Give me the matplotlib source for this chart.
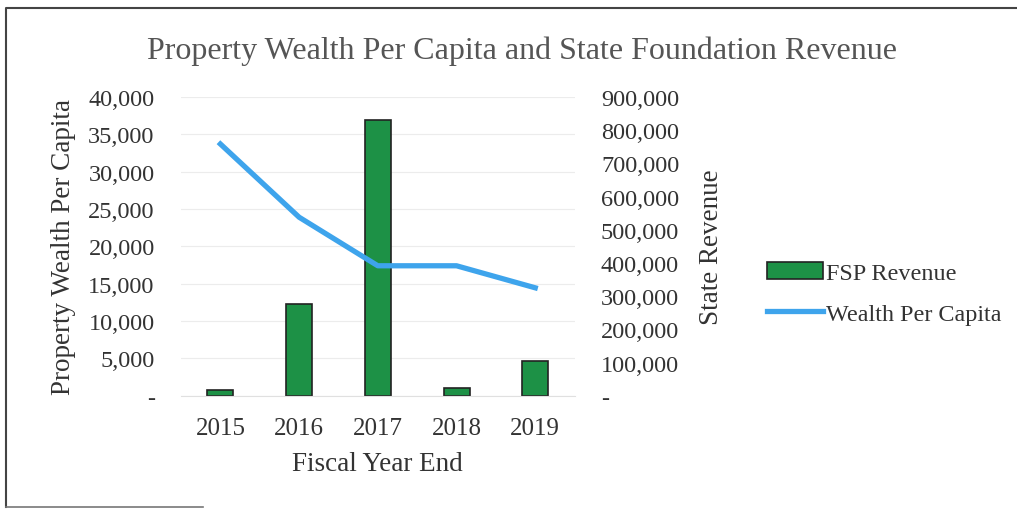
import matplotlib.pyplot as plt
import matplotlib.ticker as mticker
import matplotlib.transforms as mtransforms
from matplotlib.lines import Line2D
from matplotlib.patches import Patch

years = ['2015', '2016', '2017', '2018', '2019']
fsp_revenue = [16000, 277000, 832000, 24000, 106000]
wealth_per_capita = [33700, 23900, 17400, 17400, 14450]

plt.rcParams['font.family'] = ['Liberation Serif', 'DejaVu Serif']

fig = plt.figure(figsize=(10.17, 5.10), dpi=100)
ax = fig.add_axes([0.178, 0.222, 0.387, 0.586])
ax2 = ax.twinx()

x = range(len(years))
ax2.bar(x, fsp_revenue, width=0.33, color='#1d9146', edgecolor='#222222', linewidth=1.2, zorder=2)
ax.plot(x, wealth_per_capita, color='#3ea4ec', linewidth=3.8, zorder=3)
ax.set_zorder(ax2.get_zorder() + 1)
ax.patch.set_visible(False)

def fmt(v, pos):
    return '-' if v == 0 else f'{v:,.0f}'

ax.set_ylim(0, 40000)
ax.set_yticks(range(0, 40001, 5000))
ax.yaxis.set_major_formatter(mticker.FuncFormatter(fmt))
ax2.set_ylim(0, 900000)
ax2.set_yticks(range(0, 900001, 100000))
ax2.yaxis.set_major_formatter(mticker.FuncFormatter(fmt))
ax.set_xlim(-0.5, 4.5)
ax.set_xticks(list(x))
ax.set_xticklabels(years)

# gridlines follow the left axis but sit behind the bars
trans = mtransforms.blended_transform_factory(ax2.transAxes, ax.transData)
for t in ax.get_yticks():
    ax2.add_line(Line2D([0, 1], [t, t], transform=trans, color='#ececec',
                        linewidth=0.8, zorder=1))

for a in (ax, ax2):
    for s in a.spines.values():
        s.set_visible(False)
    a.tick_params(length=0, labelsize=17.5, colors='#333333')
ax.spines['bottom'].set_visible(True)
ax.spines['bottom'].set_color('#e0e0e0')
ax.tick_params(axis='y', pad=19)
ax2.tick_params(axis='y', pad=19)
ax.tick_params(axis='x', pad=15, labelsize=18)

ax.set_xlabel('Fiscal Year End', fontsize=19.5, color='#333333', labelpad=9)
ax.set_ylabel('Property Wealth Per Capita', fontsize=19.5, color='#333333', labelpad=9)
ax2.set_ylabel('State Revenue', fontsize=19.5, color='#333333', labelpad=14)

fig.text(0.513, 0.90, 'Property Wealth Per Capita and State Foundation Revenue',
         ha='center', va='center', fontsize=23, color='#555555')

handles = [Patch(facecolor='#1d9146', edgecolor='#222222', linewidth=1.2),
           Line2D([0], [0], color='#3ea4ec', linewidth=3.8)]
fig.legend(handles, ['FSP Revenue', 'Wealth Per Capita'], loc='center left',
           bbox_to_anchor=(0.733, 0.423), frameon=False, fontsize=17.4,
           handlelength=2.3, handletextpad=0.15, labelspacing=0.8, labelcolor='#333333')

frame = Line2D([0.006, 0.006, 1.0], [0.004, 0.982, 0.982], transform=fig.transFigure,
               color='#444444', linewidth=1.5)
bottom = Line2D([0.006, 0.2], [0.004, 0.004], transform=fig.transFigure,
                color='#777777', linewidth=1.2)
fig.add_artist(frame)
fig.add_artist(bottom)

fig.savefig('out.png', dpi=100)
